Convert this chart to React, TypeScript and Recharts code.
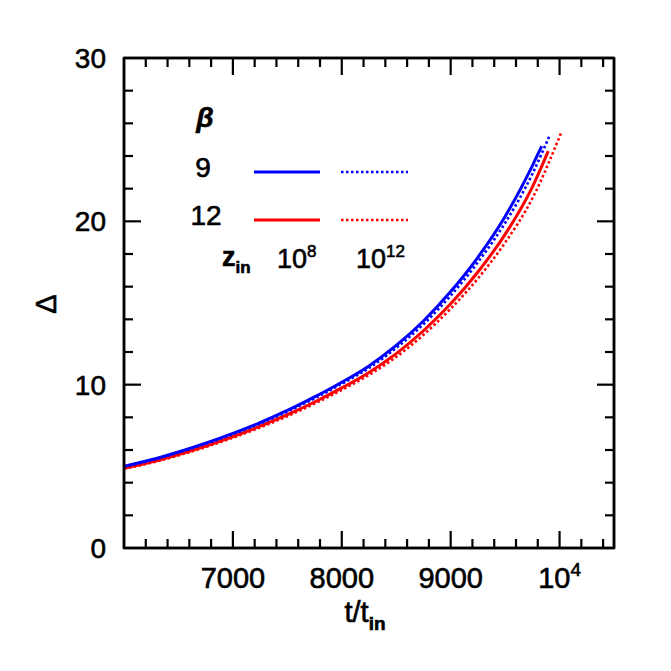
import React from 'react';
import { LineChart, Line, XAxis, YAxis } from 'recharts';

// t/t_in and Δ for each (β, z_in) model
const xB9z8 = [6000, 6250, 6500, 6750, 7000, 7250, 7500, 7750, 8000, 8250, 8500, 8750, 9000, 9250, 9500, 9750, 9836];
const yB9z8 = [5.0, 5.4, 5.88, 6.42, 7.02, 7.68, 8.42, 9.25, 10.15, 11.15, 12.4, 13.9, 15.7, 17.8, 20.3, 23.4, 24.6];

const xB9z12 = [6000, 6250, 6500, 6750, 7000, 7250, 7500, 7750, 8000, 8250, 8500, 8750, 9000, 9250, 9500, 9750, 9912];
const yB9z12 = [4.98, 5.37, 5.85, 6.38, 6.97, 7.62, 8.35, 9.16, 10.05, 11.02, 12.25, 13.7, 15.45, 17.5, 19.9, 22.9, 25.3];

const xB12z8 = [6000, 6250, 6500, 6750, 7000, 7250, 7500, 7750, 8000, 8250, 8500, 8750, 9000, 9250, 9500, 9750, 9896];
const yB12z8 = [4.88, 5.26, 5.72, 6.24, 6.82, 7.46, 8.16, 8.94, 9.8, 10.75, 11.9, 13.3, 14.95, 16.9, 19.2, 22.1, 24.3];

const xB12z12 = [6000, 6250, 6500, 6750, 7000, 7250, 7500, 7750, 8000, 8250, 8500, 8750, 9000, 9250, 9500, 9750, 10013];
const yB12z12 = [4.85, 5.22, 5.67, 6.18, 6.75, 7.38, 8.07, 8.84, 9.68, 10.6, 11.7, 13.05, 14.65, 16.5, 18.7, 21.4, 25.4];

// ticks
const xTicks = [6200, 6400, 6600, 6800, 7000, 7200, 7400, 7600, 7800, 8000, 8200, 8400, 8600, 8800, 9000, 9200, 9400, 9600, 9800, 10000, 10200, 10400];
const xMajorTicks = [7000, 8000, 9000, 10000];
const xTickLabels = ['7000', '8000', '9000', '10^4'];
const yTicks = [0, 2, 4, 6, 8, 10, 12, 14, 16, 18, 20, 22, 24, 26, 28, 30];
const yMajorTicks = [0, 10, 20, 30];
const yTickLabels = ['0', '10', '20', '30'];

const BLUE = '#0000ff';
const RED = '#ff0000';
const FONT = '"Liberation Sans", Arial, sans-serif';
const MAJOR = 17;
const MINOR = 9;
const TXT_STROKE = { stroke: '#000', strokeWidth: 0.6 };

const pts = (xs: number[], ys: number[]) => xs.map((x, i) => ({ x, y: ys[i] }));

const renderXLabel = (v: number, x: number, y: number) => {
  const i = xMajorTicks.indexOf(v);
  if (i < 0) return null;
  const lab = xTickLabels[i];
  if (lab.includes('^')) {
    const [b, e] = lab.split('^');
    return (
      <text x={x} y={y} textAnchor="middle" fontFamily={FONT} fontSize={29} fill="#000" {...TXT_STROKE}>
        {b}
        <tspan fontSize={19} dy={-12}>{e}</tspan>
      </text>
    );
  }
  return (
    <text x={x} y={y} textAnchor="middle" fontFamily={FONT} fontSize={29} fill="#000" {...TXT_STROKE}>
      {lab}
    </text>
  );
};

const BottomTick = (props: any) => {
  const { x, y, payload } = props;
  const v = payload.value;
  const major = xMajorTicks.includes(v);
  const len = major ? MAJOR : MINOR;
  return (
    <g>
      <line x1={x} x2={x} y1={y} y2={y - len} stroke="#000" strokeWidth={2.2} />
      {renderXLabel(v, x, y + 40)}
    </g>
  );
};

const TopTick = (props: any) => {
  const { x, payload } = props;
  const major = xMajorTicks.includes(payload.value);
  const len = major ? MAJOR : MINOR;
  const y0 = 58;
  return <line x1={x} x2={x} y1={y0} y2={y0 + len} stroke="#000" strokeWidth={2.2} />;
};

const LeftTick = (props: any) => {
  const { x, y, payload } = props;
  const v = payload.value;
  const i = yMajorTicks.indexOf(v);
  const major = i >= 0;
  const len = major ? MAJOR : MINOR;
  return (
    <g>
      {v !== 0 && v !== 30 && (
        <line x1={x} x2={x + len} y1={y} y2={y} stroke="#000" strokeWidth={2.2} />
      )}
      {major && (
        <text x={x - 18} y={y + 10} textAnchor="end" fontFamily={FONT} fontSize={28} fill="#000" {...TXT_STROKE}>
          {yTickLabels[i]}
        </text>
      )}
    </g>
  );
};

const RightTick = (props: any) => {
  const { y, payload } = props;
  const v = payload.value;
  const major = yMajorTicks.includes(v);
  const len = major ? MAJOR : MINOR;
  const x0 = 614;
  if (v === 0 || v === 30) return <g />;
  return <line x1={x0} x2={x0 - len} y1={y} y2={y} stroke="#000" strokeWidth={2.2} />;
};

const axisLine = { stroke: '#000', strokeWidth: 2.5 };

export default function App() {
  return (
    <div style={{ position: 'absolute', left: 0, top: 0, width: 671, height: 671, background: '#fff' }}>
      <LineChart
        width={671}
        height={671}
        margin={{ top: 48, right: 47, bottom: 63, left: 64 }}
      >
        <XAxis
          xAxisId="b"
          dataKey="x"
          type="number"
          domain={[6000, 10500]}
          allowDataOverflow
          ticks={[...xTicks]}
          interval={0}
          tickSize={0}
          tickMargin={0}
          tick={<BottomTick />}
          axisLine={axisLine}
          height={60}
        />
        <XAxis
          xAxisId="t"
          orientation="top"
          dataKey="x"
          type="number"
          domain={[6000, 10500]}
          allowDataOverflow
          ticks={[...xTicks]}
          interval={0}
          tickSize={0}
          tickMargin={0}
          tick={<TopTick />}
          axisLine={axisLine}
          height={10}
        />
        <YAxis
          yAxisId="l"
          type="number"
          domain={[0, 30]}
          allowDataOverflow
          ticks={[...yTicks]}
          interval={0}
          tickSize={0}
          tickMargin={0}
          tick={<LeftTick />}
          axisLine={axisLine}
          width={60}
        />
        <YAxis
          yAxisId="r"
          orientation="right"
          type="number"
          domain={[0, 30]}
          allowDataOverflow
          ticks={[...yTicks]}
          interval={0}
          tickSize={0}
          tickMargin={0}
          tick={<RightTick />}
          axisLine={axisLine}
          width={10}
        />
        <Line xAxisId="b" yAxisId="l" data={pts(xB12z12, yB12z12)} dataKey="y" type="monotone" stroke={RED} strokeWidth={2.6} strokeDasharray="2.5 2.5" dot={false} isAnimationActive={false} />
        <Line xAxisId="b" yAxisId="l" data={pts(xB12z8, yB12z8)} dataKey="y" type="monotone" stroke={RED} strokeWidth={3} dot={false} isAnimationActive={false} />
        <Line xAxisId="b" yAxisId="l" data={pts(xB9z12, yB9z12)} dataKey="y" type="monotone" stroke={BLUE} strokeWidth={2.6} strokeDasharray="2.5 2.5" dot={false} isAnimationActive={false} />
        <Line xAxisId="b" yAxisId="l" data={pts(xB9z8, yB9z8)} dataKey="y" type="monotone" stroke={BLUE} strokeWidth={3} dot={false} isAnimationActive={false} />
      </LineChart>
      <svg width={671} height={671} style={{ position: 'absolute', left: 0, top: 0, pointerEvents: 'none' }}>
        <rect x={124} y={58} width={490} height={490} fill="none" stroke="#000" strokeWidth={2.5} />
        <g fontFamily={FONT} fill="#000" {...TXT_STROKE}>
          {/* axis titles */}
          <text x={365} y={622} textAnchor="middle" fontSize={29}>
            t/t<tspan fontSize={19} dy={8} fontWeight="bold">in</tspan>
          </text>
          <text x={56} y={304} textAnchor="middle" fontSize={29} transform="rotate(-90 56 304)">
            Δ
          </text>
          {/* legend */}
          <text x={205} y={127} textAnchor="middle" fontSize={28} fontStyle="italic" fontWeight="bold">β</text>
          <text x={203} y={177} textAnchor="middle" fontSize={28}>9</text>
          <text x={206} y={225} textAnchor="middle" fontSize={28}>12</text>
          <text x={222} y={266} fontSize={27} fontWeight="bold">z<tspan fontSize={17} dy={7}>in</tspan></text>
          <text x={277} y={268} fontSize={27}>10<tspan fontSize={17} dy={-11}>8</tspan></text>
          <text x={356} y={268} fontSize={27}>10<tspan fontSize={17} dy={-11}>12</tspan></text>
        </g>
        <line x1={254} x2={320} y1={172} y2={172} stroke={BLUE} strokeWidth={3} />
        <line x1={341} x2={408} y1={172} y2={172} stroke={BLUE} strokeWidth={2.6} strokeDasharray="2.5 2.5" />
        <line x1={254} x2={320} y1={220} y2={220} stroke={RED} strokeWidth={3} />
        <line x1={341} x2={408} y1={220} y2={220} stroke={RED} strokeWidth={2.6} strokeDasharray="2.5 2.5" />
      </svg>
    </div>
  );
}
